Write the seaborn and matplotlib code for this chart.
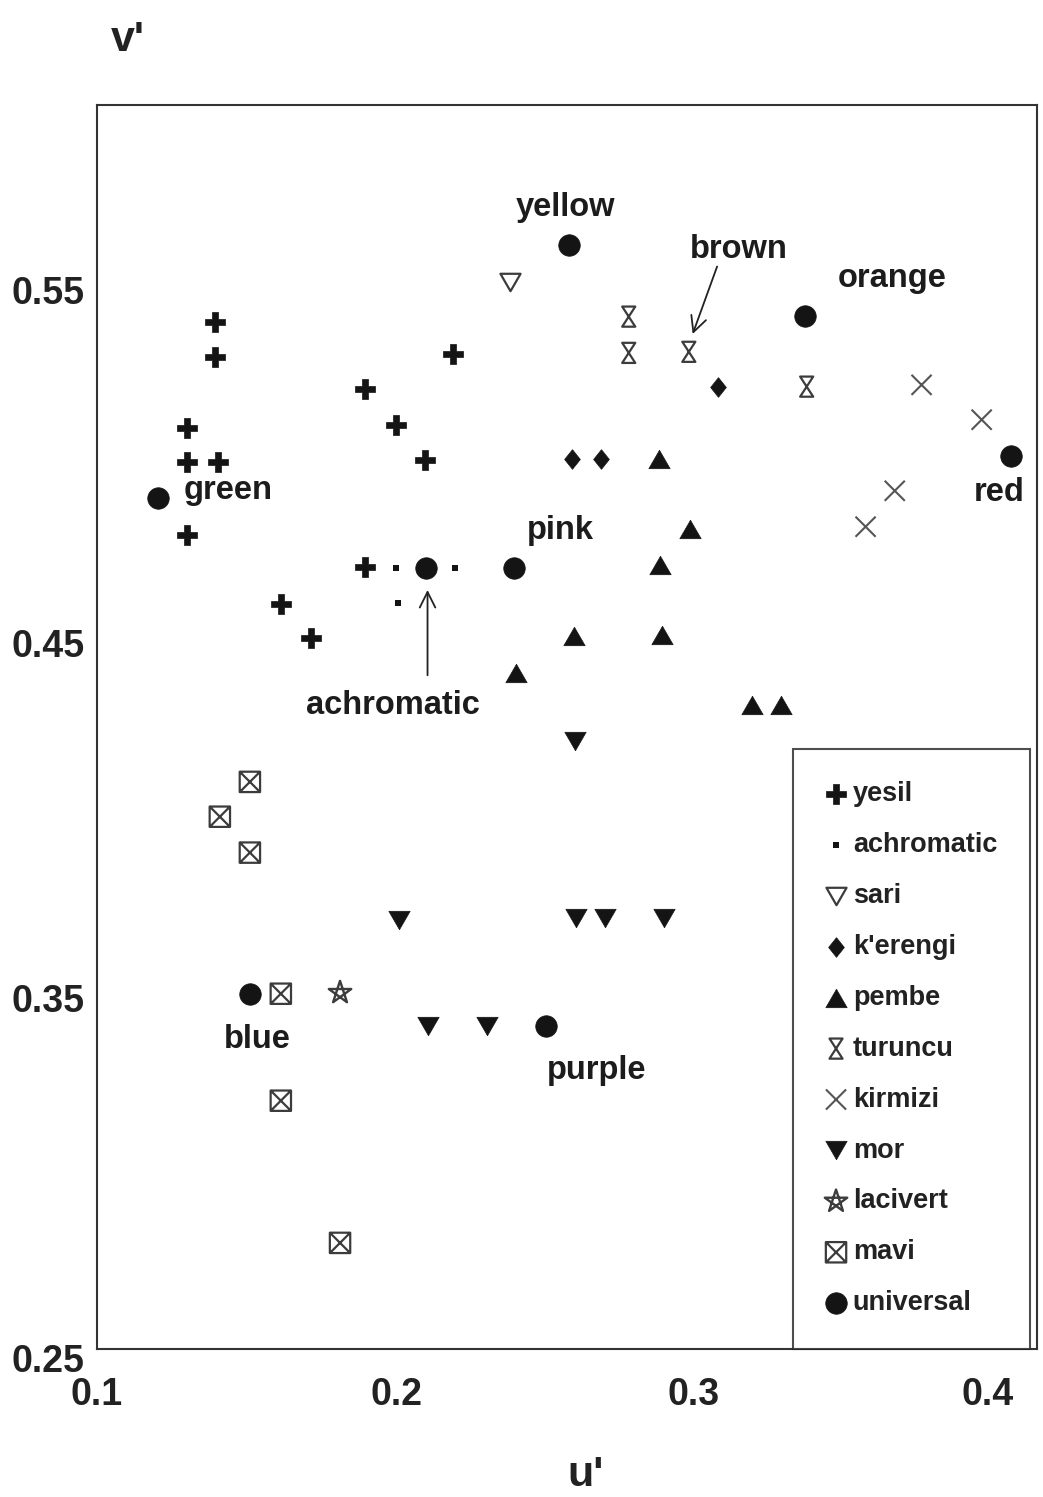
import matplotlib
matplotlib.use("Agg")
import matplotlib.pyplot as plt
import matplotlib.transforms as mtransforms
from matplotlib.path import Path
import seaborn as sns
import pandas as pd
import numpy as np

# ---------------- data ----------------
yesil_u = [0.140, 0.140, 0.1305, 0.1305, 0.141, 0.1305, 0.191, 0.2015, 0.2115, 0.2208, 0.191, 0.1624, 0.1726]
yesil_v = [0.539, 0.529, 0.509, 0.4996, 0.4996, 0.479, 0.520, 0.510, 0.500, 0.530, 0.470, 0.4596, 0.450]
achrom_u = [0.2015, 0.2215, 0.2022]
achrom_v = [0.4698, 0.4698, 0.4599]
sari_u = [0.2401]
sari_v = [0.5502]
kerengi_u = [0.3107, 0.2612, 0.2710]
kerengi_v = [0.5207, 0.5004, 0.5004]
pembe_u = [0.2907, 0.3012, 0.2910, 0.2619, 0.2917, 0.2422, 0.3223, 0.3321]
pembe_v = [0.5004, 0.4807, 0.4706, 0.4506, 0.4509, 0.4402, 0.4312, 0.4312]
turuncu_u = [0.2805, 0.2805, 0.3009, 0.3409]
turuncu_v = [0.5404, 0.5302, 0.5305, 0.5207]
kirmizi_u = [0.3799, 0.4003, 0.3708, 0.3609]
kirmizi_v = [0.5212, 0.5114, 0.4914, 0.4813]
mor_u = [0.2622, 0.2025, 0.2625, 0.2724, 0.2924, 0.2123, 0.2323]
mor_v = [0.4211, 0.3707, 0.3713, 0.3713, 0.3713, 0.3409, 0.3409]
lacivert_u = [0.1825]
lacivert_v = [0.3502]
mavi_u = [0.1519, 0.1417, 0.1519, 0.1624, 0.1624, 0.1825]
mavi_v = [0.4095, 0.3997, 0.3896, 0.3499, 0.3198, 0.2798]
universal_u = [0.2602, 0.3402, 0.4101, 0.1207, 0.2116, 0.2415, 0.1519, 0.2524]
universal_v = [0.5606, 0.5407, 0.5013, 0.4894, 0.4698, 0.4698, 0.3499, 0.3409]

series_names = ["yesil", "achromatic", "sari", "k'erengi", "pembe", "turuncu",
                "kirmizi", "mor", "lacivert", "mavi", "universal"]

color_names = ["yellow", "brown", "orange", "green", "red", "pink",
               "achromatic", "blue", "purple"]
label_u = [0.2591, 0.3179, 0.3699, 0.1445, 0.4063, 0.2574, 0.2003, 0.1545, 0.2696]
label_v = [0.5712, 0.5592, 0.5510, 0.4916, 0.4910, 0.4801, 0.4310, 0.3371, 0.3282]

x_ticks = [0.1, 0.2, 0.3, 0.4]
x_tick_labels = ["0.1", "0.2", "0.3", "0.4"]
y_ticks = [0.25, 0.35, 0.45, 0.55]
y_tick_labels = ["0.25", "0.35", "0.45", "0.55"]

# ---------------- custom markers ----------------
M, L, C = Path.MOVETO, Path.LINETO, Path.CLOSEPOLY
tri_up = Path([(0, 0.433), (-0.5, -0.433), (0.5, -0.433), (0, 0.433)], [M, L, L, C])
tri_down = Path([(0, -0.433), (-0.5, 0.433), (0.5, 0.433), (0, -0.433)], [M, L, L, C])
diamond = Path([(0, 1), (0.8, 0), (0, -1), (-0.8, 0), (0, 1)], [M, L, L, L, C])
hourglass = Path([(-0.65, 1), (0.65, 1), (-0.65, -1), (0.65, -1), (-0.65, 1)],
                 [M, L, L, L, C])
boxx = Path([(-1, -1), (1, -1), (1, 1), (-1, 1), (-1, -1),
             (-1, -1), (1, 1), (-1, 1), (1, -1)],
            [M, L, L, L, C, M, L, M, L])
xcross = Path([(-1, -1), (1, 1), (-1, 1), (1, -1)], [M, L, M, L])
ang = np.pi / 2 + np.arange(5) * 2 * np.pi / 5
pts = [(np.cos(a), np.sin(a)) for a in ang]
order = [0, 2, 4, 1, 3, 0]
pentagram = Path([pts[i] for i in order], [M, L, L, L, L, C])

# ---------------- figure ----------------
sns.set_theme(style="white")
plt.rcParams['font.family'] = ['Liberation Sans', 'DejaVu Sans']
plt.rcParams['font.weight'] = 'bold'

fig = plt.figure(figsize=(10.43, 14.97), dpi=100)
ax = fig.add_axes([0.093, 0.099, 0.901, 0.831])

dark = "#141414"
grey = "#3c3c3c"

specs = [
    ("yesil", yesil_u, yesil_v, dict(marker="P", s=220, color=dark, edgecolor=dark, linewidth=0.5)),
    ("achromatic", achrom_u, achrom_v, dict(marker="s", s=22, color=dark, edgecolor=dark, linewidth=0)),
    ("sari", sari_u, sari_v, dict(marker=tri_down, s=210, facecolor="white", edgecolor=grey, linewidth=1.6)),
    ("k'erengi", kerengi_u, kerengi_v, dict(marker=diamond, s=200, color=dark, edgecolor=dark, linewidth=0.5)),
    ("pembe", pembe_u, pembe_v, dict(marker=tri_up, s=235, color=dark, edgecolor=dark, linewidth=0.5)),
    ("turuncu", turuncu_u, turuncu_v, dict(marker=hourglass, s=210, facecolor="none", edgecolor=grey, linewidth=1.6)),
    ("kirmizi", kirmizi_u, kirmizi_v, dict(marker=xcross, s=210, facecolor="none", edgecolor="#555555", linewidth=1.5)),
    ("mor", mor_u, mor_v, dict(marker=tri_down, s=235, color=dark, edgecolor=dark, linewidth=0.5)),
    ("lacivert", lacivert_u, lacivert_v, dict(marker=pentagram, s=290, facecolor="none", edgecolor=grey, linewidth=1.7)),
    ("mavi", mavi_u, mavi_v, dict(marker=boxx, s=215, facecolor="none", edgecolor=grey, linewidth=1.6)),
    ("universal", universal_u, universal_v, dict(marker="o", s=240, color=dark, edgecolor=dark, linewidth=0.5)),
]

for name, u, v, kw in specs:
    df = pd.DataFrame({"u": u, "v": v})
    sns.scatterplot(data=df, x="u", y="v", ax=ax, label=name, zorder=3, **kw)

for name, lu, lv in zip(color_names, label_u, label_v):
    ax.text(lu, lv, name, ha="center", va="center", fontsize=23.5,
            fontweight="bold", color="#1c1c1c")

# arrows
ax.annotate("", xy=(0.3022, 0.5355), xytext=(0.3105, 0.5545),
            arrowprops=dict(arrowstyle="->", lw=1.3, color="#222222",
                            mutation_scale=28, shrinkA=0, shrinkB=0))
ax.annotate("", xy=(0.2122, 0.4635), xytext=(0.2122, 0.4395),
            arrowprops=dict(arrowstyle="->", lw=1.3, color="#222222",
                            mutation_scale=28, shrinkA=0, shrinkB=0))

ax.set_xlim(0.1, 0.419)
ax.set_ylim(0.25, 0.6)
ax.set_xticks(x_ticks)
ax.set_xticklabels(x_tick_labels)
ax.set_yticks(y_ticks)
ax.set_yticklabels(y_tick_labels)
ax.tick_params(axis="both", length=0, labelsize=27, colors="#222222")
ax.tick_params(axis="x", pad=20)
ax.tick_params(axis="y", pad=9)
for lab in ax.get_xticklabels() + ax.get_yticklabels():
    lab.set_fontweight("bold")
# printed labels sit slightly offset from the tick positions
for lab, dx in zip(ax.get_xticklabels(), [0, 5, 7, 7]):
    lab.set_transform(lab.get_transform() + mtransforms.ScaledTranslation(dx / 100, 0, fig.dpi_scale_trans))
for lab, dy in zip(ax.get_yticklabels(), [-9, -5, -5, -7]):
    lab.set_transform(lab.get_transform() + mtransforms.ScaledTranslation(0, dy / 100, fig.dpi_scale_trans))
ax.set_xlabel("")
ax.set_ylabel("")
for sp in ax.spines.values():
    sp.set_color("#333333")
    sp.set_linewidth(1.5)

fig.text(0.123, 0.973, "v'", fontsize=31, fontweight="bold", ha="center", va="center", color="#222222")
fig.text(0.561, 0.015, "u'", fontsize=31, fontweight="bold", ha="center", va="center", color="#222222")

leg = ax.legend(loc="lower right", bbox_to_anchor=(0.9925, 0.0), frameon=True,
                fancybox=False, fontsize=19.5, labelspacing=0.92,
                handletextpad=0.22, handlelength=0.8, borderpad=1.2,
                borderaxespad=0)
leg.get_frame().set_edgecolor("#222222")
leg.get_frame().set_linewidth(1.5)
for t in leg.get_texts():
    t.set_fontweight("bold")
    t.set_color("#222222")

fig.savefig("out.png", dpi=100)
